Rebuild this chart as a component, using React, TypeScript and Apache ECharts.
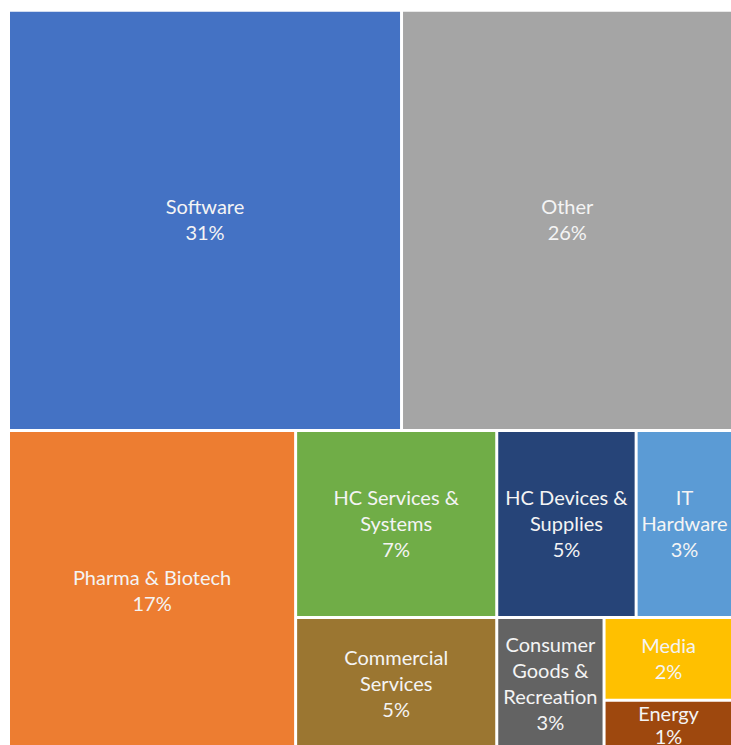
import React, { useEffect, useRef } from "react";
import * as echarts from "echarts";

const categories = [
  "Software",
  "Other",
  "Pharma & Biotech",
  "HC Services & Systems",
  "Commercial Services",
  "HC Devices & Supplies",
  "IT Hardware",
  "Consumer Goods & Recreation",
  "Media",
  "Energy",
];

const categoryLabels = [
  "Software",
  "Other",
  "Pharma & Biotech",
  "HC Services &\nSystems",
  "Commercial\nServices",
  "HC Devices &\nSupplies",
  "IT\nHardware",
  "Consumer\nGoods &\nRecreation",
  "Media",
  "Energy",
];

const shares = [30.77, 25.95, 17.16, 7.0, 5.02, 4.85, 3.37, 2.68, 1.99, 1.23];

const colors = [
  "#4472C4",
  "#A5A5A5",
  "#ED7D31",
  "#70AD47",
  "#9B7631",
  "#264478",
  "#5B9BD5",
  "#636363",
  "#FFC000",
  "#9E480E",
];

export default function App() {
  const ref = useRef<HTMLDivElement>(null);
  useEffect(() => {
    if (!ref.current) return;
    const chart = echarts.init(ref.current, null, { renderer: "svg" });
    const data = categories.map((name, i) => ({
      name,
      value: shares[i],
      itemStyle: { color: colors[i] },
      // the smallest cell is shorter than two full text lines
      ...(name === "Energy" ? { label: { lineHeight: 23 } } : {}),
    }));
    chart.setOption({
      animation: false,
      series: [
        {
          type: "treemap",
          left: 2,
          top: 3.7,
          width: 721.5,
          height: 738.3,
          squareRatio: 1,
          sort: "desc",
          roam: false,
          nodeClick: false,
          breadcrumb: { show: false },
          emphasis: { disabled: true },
          itemStyle: { gapWidth: 3, borderWidth: 0, borderColor: "#fff" },
          label: {
            show: true,
            position: "inside",
            offset: [0, -1],
            padding: 0,
            overflow: "none",
            color: "#f4f4f4",
            fontFamily: "Lato",
            fontSize: 20,
            lineHeight: 26,
            align: "center",
            verticalAlign: "middle",
            formatter: (p: any) => {
              const idx = categories.indexOf(p.name);
              return categoryLabels[idx] + "\n" + Math.round(p.value) + "%";
            },
          },
          data,
        },
      ],
    });
    return () => chart.dispose();
  }, []);
  return (
    <div
      ref={ref}
      style={{ position: "absolute", left: 8, top: 8, width: 723, height: 737 }}
    />
  );
}
